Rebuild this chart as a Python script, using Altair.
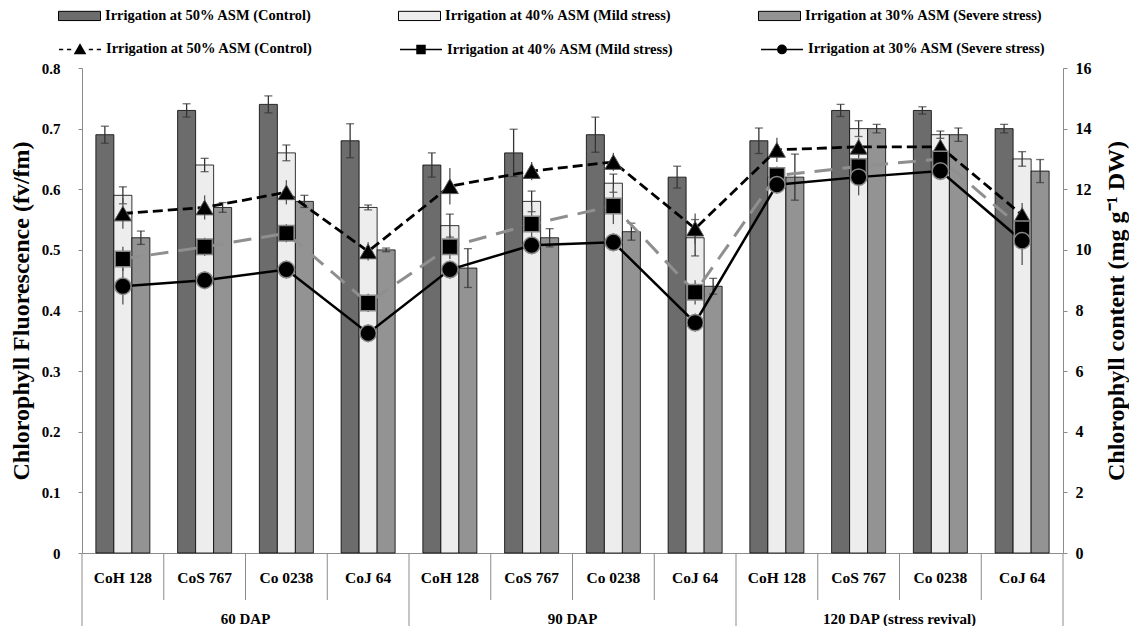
import altair as alt
import pandas as pd

SERIF = "Liberation Serif"

DAPS = ["60 DAP", "90 DAP", "120 DAP (stress revival)"]
VARIETIES = ["CoH 128", "CoS 767", "Co 0238", "CoJ 64"]
TREATMENTS = [
    "Irrigation at 50% ASM  (Control)",
    "Irrigation at 40% ASM  (Mild stress)",
    "Irrigation at 30% ASM  (Severe stress)",
]
# line-series legend labels (same text, kept as a distinct legend)
LINE_SERIES = [t + "\u00a0" for t in TREATMENTS]

# Chlorophyll fluorescence (fv/fm) - bars, left axis
FV_CONTROL = [0.69, 0.73, 0.74, 0.68, 0.64, 0.66, 0.69, 0.62, 0.68, 0.73, 0.73, 0.70]
FV_MILD = [0.59, 0.64, 0.66, 0.57, 0.54, 0.58, 0.61, 0.52, 0.62, 0.70, 0.69, 0.65]
FV_SEVERE = [0.52, 0.57, 0.58, 0.50, 0.47, 0.52, 0.53, 0.44, 0.62, 0.70, 0.69, 0.63]
FV_ERR_CONTROL = [0.014, 0.011, 0.014, 0.028, 0.020, 0.039, 0.029, 0.018, 0.021, 0.010, 0.006, 0.007]
FV_ERR_MILD = [0.014, 0.011, 0.013, 0.004, 0.019, 0.017, 0.015, 0.030, 0.015, 0.013, 0.006, 0.012]
FV_ERR_SEVERE = [0.011, 0.008, 0.010, 0.003, 0.032, 0.015, 0.014, 0.013, 0.038, 0.007, 0.011, 0.019]

# Chlorophyll content (mg g-1 DW) - lines, right axis
CHL_CONTROL = [11.2, 11.4, 11.9, 9.95, 12.1, 12.6, 12.9, 10.7, 13.3, 13.4, 13.4, 11.15]
CHL_MILD = [9.7, 10.1, 10.55, 8.25, 10.1, 10.85, 11.45, 8.6, 12.45, 12.75, 13.0, 10.7]
CHL_SEVERE = [8.8, 9.0, 9.35, 7.25, 9.35, 10.15, 10.25, 7.6, 12.15, 12.4, 12.6, 10.3]
CHL_ERR_CONTROL = [0.5, 0.4, 0.4, 0.3, 0.6, 0.3, 0.3, 0.5, 0.4, 0.3, 0.3, 0.4]
CHL_ERR_MILD = [0.4, 0.3, 0.3, 0.3, 0.4, 0.6, 0.6, 0.4, 0.3, 0.4, 0.3, 0.3]
CHL_ERR_SEVERE = [0.6, 0.3, 0.3, 0.3, 0.3, 0.3, 0.3, 0.3, 0.3, 0.6, 0.3, 0.8]

BAR_FILLS = ["#6c6c6c", "#ededed", "#939393"]
LINE_SYMBOLS = [
    "M-1,0H-0.8M-0.62,0H-0.42M0.42,0H0.62M0.8,0H1M-0.24,0.2L0,-0.22L0.24,0.2Z",
    "M-1,0H-0.2M0.2,0H1M-0.19,-0.19H0.19V0.19H-0.19Z",
    "M-1,0H-0.2M0.2,0H1M-0.2,0A0.2,0.2,0,1,0,0.2,0A0.2,0.2,0,1,0,-0.2,0Z",
]
BAR_SYMBOL = "M-1,-0.22H1V0.22H-1Z"

GROUPS = [f"{d}|{v}" for d in DAPS for v in VARIETIES]
W, H = 981, 485

bar_rows = []
for t, vals, errs in zip(TREATMENTS, [FV_CONTROL, FV_MILD, FV_SEVERE],
                         [FV_ERR_CONTROL, FV_ERR_MILD, FV_ERR_SEVERE]):
    for i, g in enumerate(GROUPS):
        bar_rows.append({"grp": g, "treat": t, "val": vals[i],
                         "lo": vals[i] - errs[i], "hi": vals[i] + errs[i]})
bars_df = pd.DataFrame(bar_rows)

line_rows = []
for t, vals, errs in zip(LINE_SERIES, [CHL_CONTROL, CHL_MILD, CHL_SEVERE],
                         [CHL_ERR_CONTROL, CHL_ERR_MILD, CHL_ERR_SEVERE]):
    for i, g in enumerate(GROUPS):
        line_rows.append({"grp": g, "series": t, "idx": i, "val": vals[i],
                          "lo": vals[i] - errs[i], "hi": vals[i] + errs[i]})
lines_df = pd.DataFrame(line_rows)

long_groups = [GROUPS[0], GROUPS[4], GROUPS[8]]
sep_short_df = pd.DataFrame({"grp": [g for g in GROUPS if g not in long_groups]})
sep_long_df = pd.DataFrame({"grp": long_groups})
dap_df = pd.DataFrame({"grp": [GROUPS[2], GROUPS[6], GROUPS[10]], "label": DAPS})
end_df = pd.DataFrame({"k": [1]})

GRAY = "#8c8c8c"

XSCALE = alt.Scale(domain=GROUPS, paddingInner=0, paddingOuter=0)
XAXIS = alt.Axis(title=None, labelExpr="split(datum.value, '|')[1]", ticks=False,
                 domainColor=GRAY, labelFont=SERIF, labelFontWeight="bold",
                 labelFontSize=15.5, labelPadding=17, labelAngle=0, labelColor="black")


def X(bp=None):
    kw = dict(scale=XSCALE, axis=XAXIS, title=None)
    if bp is not None:
        kw["bandPosition"] = bp
    return alt.X("grp:N", **kw)


XOFF = alt.XOffset("treat:N", scale=alt.Scale(domain=TREATMENTS, paddingInner=0, paddingOuter=0.77))

LSCALE = alt.Scale(domain=[0, 0.8], nice=False)
LAXIS = alt.Axis(title="Chlorophyll Fluorescence (fv/fm)", orient="left",
                 values=[round(i * 0.1, 1) for i in range(9)],
                 labelExpr="datum.value == 0 ? '0' : format(datum.value, '.1f')",
                 grid=False, domainColor=GRAY, tickColor=GRAY, tickSize=4,
                 labelPadding=18, labelFont=SERIF, labelFontWeight="bold",
                 labelFontSize=15, labelColor="black",
                 titleFont=SERIF, titleFontWeight="bold", titleFontSize=24,
                 titleColor="black", titleX=-61, titleAngle=270, titleBaseline="middle")

RSCALE = alt.Scale(domain=[0, 16], nice=False)
RAXIS = alt.Axis(title="Chlorophyll content (mg g\u207b\u00b9 DW)", orient="right",
                 values=list(range(0, 17, 2)),
                 grid=False, domainColor=GRAY, tickColor=GRAY, tickSize=4,
                 labelPadding=8, labelFont=SERIF, labelFontWeight="bold",
                 labelFontSize=16, labelColor="black",
                 titleFont=SERIF, titleFontWeight="bold", titleFontSize=24,
                 titleColor="black", titleX=53, titleAngle=270, titleBaseline="middle")


def LY(f):
    return alt.Y(f"{f}:Q", scale=LSCALE, axis=LAXIS)


def RY(f):
    return alt.Y(f"{f}:Q", scale=RSCALE, axis=RAXIS)


LEG_COMMON = dict(orient="none", legendX=-24, direction="horizontal", columns=3,
                  title=None, symbolSize=1764, labelFont=SERIF, labelFontWeight="bold",
                  labelFontSize=14.5, labelLimit=400, labelOffset=4, columnPadding=80,
                  labelColor="black")

bars = alt.Chart(bars_df).mark_bar(stroke="black", strokeWidth=0.8).encode(
    x=X(), xOffset=XOFF, y=LY("val"),
    fill=alt.Fill("treat:N", scale=alt.Scale(domain=TREATMENTS, range=BAR_FILLS),
                  legend=alt.Legend(legendY=-74, symbolType=BAR_SYMBOL,
                                    symbolStrokeColor="black", symbolStrokeWidth=1,
                                    **LEG_COMMON)),
)
bar_err = alt.Chart(bars_df).mark_rule(color="#333333", strokeWidth=1.3).encode(
    x=X(), xOffset=XOFF, y=LY("lo"), y2="hi")
bar_cap_hi = alt.Chart(bars_df).mark_tick(color="#333333", thickness=1.3, size=8).encode(
    x=X(), xOffset=XOFF, y=LY("hi"))
bar_cap_lo = alt.Chart(bars_df).mark_tick(color="#333333", thickness=1.3, size=8).encode(
    x=X(), xOffset=XOFF, y=LY("lo"))

sep_short = alt.Chart(sep_short_df).mark_rule(color=GRAY, strokeWidth=1).encode(
    x=X(0), y=alt.value(H), y2=alt.value(H + 47))
sep_long = alt.Chart(sep_long_df).mark_rule(color=GRAY, strokeWidth=1).encode(
    x=X(0), y=alt.value(H), y2=alt.value(H + 75))
sep_end = alt.Chart(end_df).mark_rule(color=GRAY, strokeWidth=1).encode(
    x=alt.value(W), y=alt.value(H), y2=alt.value(H + 75))
dap_text = alt.Chart(dap_df).mark_text(font=SERIF, fontWeight="bold", fontSize=15,
                                        baseline="middle", color="black").encode(
    x=X(0), y=alt.value(H + 66), text="label:N")

left = alt.layer(bars, bar_err, bar_cap_hi, bar_cap_lo, sep_short, sep_long, sep_end, dap_text)

LINE_STYLES = [
    dict(color="black", strokeWidth=2.8, strokeDash=[10, 5]),
    dict(color="#8f8f8f", strokeWidth=3, strokeDash=[18, 10]),
    dict(color="black", strokeWidth=2.5),
]
POINT_STYLES = [
    dict(shape="triangle-up", size=290, fill="black", filled=True, stroke="#555555", strokeWidth=1),
    dict(shape="square", size=240, fill="black", filled=True, stroke="#888888", strokeWidth=1.5),
    dict(shape="circle", size=270, fill="black", filled=True, stroke="#888888", strokeWidth=1.5),
]

right_layers = []
for t, ls in zip(LINE_SERIES, LINE_STYLES):
    right_layers.append(
        alt.Chart(lines_df).transform_filter(alt.datum.series == t).mark_line(**ls).encode(
            x=X(), y=RY("val"), order=alt.Order("idx:Q")))
for t in LINE_SERIES:
    right_layers.append(
        alt.Chart(lines_df).transform_filter(alt.datum.series == t).mark_rule(
            color="#555555", strokeWidth=1.3).encode(x=X(), y=RY("lo"), y2="hi"))
for t, ps in zip(LINE_SERIES, POINT_STYLES):
    right_layers.append(
        alt.Chart(lines_df).transform_filter(alt.datum.series == t).mark_point(
            opacity=1, **ps).encode(x=X(), y=RY("val")))

legend_layer = alt.Chart(pd.DataFrame({"series": LINE_SERIES})).transform_filter(
    "false").mark_point(filled=True, fill="black", stroke="black",
                        strokeWidth=2, opacity=1).encode(
    shape=alt.Shape("series:N", scale=alt.Scale(domain=LINE_SERIES, range=LINE_SYMBOLS),
                    legend=alt.Legend(legendY=-41, **LEG_COMMON)))
right_layers.append(legend_layer)

right = alt.layer(*right_layers)

chart = alt.layer(left, right).resolve_scale(y="independent").properties(
    width=W, height=H,
    padding={"left": 74, "top": 60, "right": 66, "bottom": 73},
    autosize=alt.AutoSizeParams(type="none"),
    background="white",
).configure_view(stroke=None)

chart.save("out.html", embed_options={"renderer": "svg", "actions": False})
